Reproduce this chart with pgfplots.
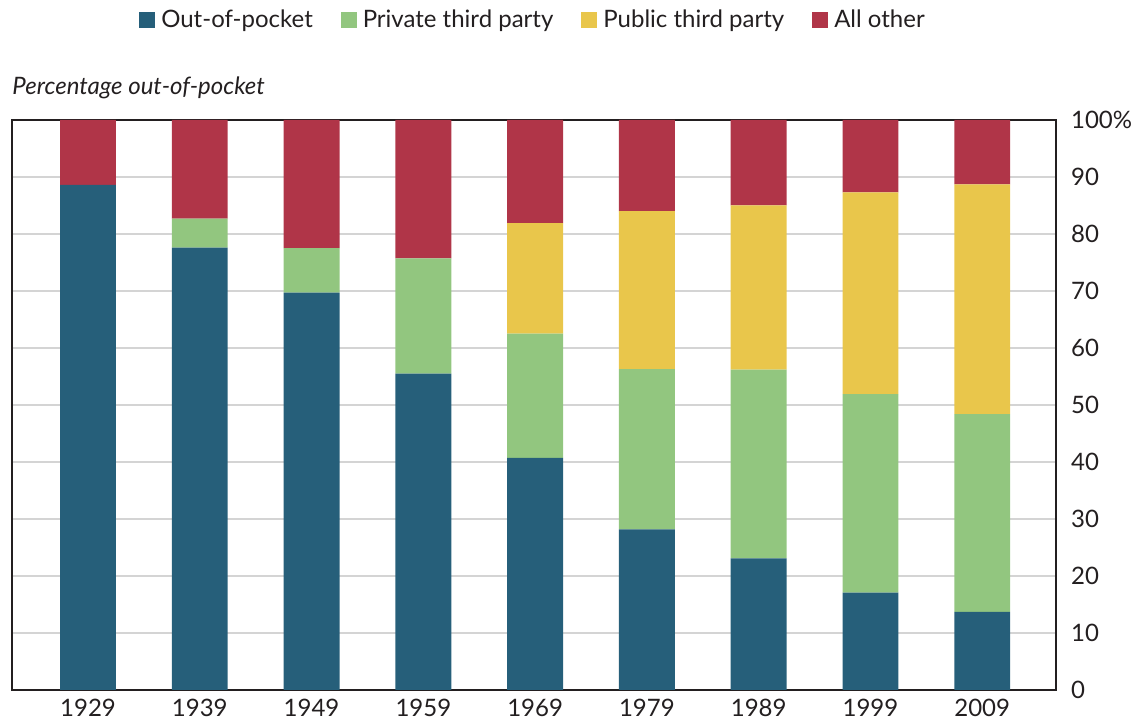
\documentclass[border=0pt]{standalone}
\usepackage{fontspec}
\setmainfont{Lato}
\usepackage{pgfplots}
\pgfplotsset{compat=1.18}
\usetikzlibrary{calc}
\definecolor{oop}{HTML}{265F7A}
\definecolor{priv}{HTML}{92C67F}
\definecolor{pub}{HTML}{E9C64B}
\definecolor{oth}{HTML}{B03548}
\definecolor{txt}{HTML}{231F20}
\definecolor{grd}{HTML}{D4D4D4}
\pgfplotsset{sqlegend/.style={legend image code/.code={\fill[##1] (0pt,-4pt) rectangle (8pt,4pt);}}}
\begin{document}
\begin{tikzpicture}
\begin{axis}[
  name=ax,
  scale only axis,
  width=522pt, height=285pt,
  ybar stacked, bar width=0.5,
  xmin=-0.68, xmax=8.66,
  ymin=0, ymax=100,
  xtick=data,
  xticklabels={1929,1939,1949,1959,1969,1979,1989,1999,2009},
  ytick={0,10,...,100},
  yticklabels={0,10,20,30,40,50,60,70,80,90,100\%},
  yticklabel pos=right,
  major tick length=0pt,
  ymajorgrids, grid style={grd, line width=0.8pt},
  axis line style={txt, line width=1.4pt},
  font=\fontsize{12}{14}\selectfont,
  ticklabel style={txt},
  /pgf/number format/assume math mode=true,
  yticklabel style={xshift=4pt},
  xticklabel style={yshift=-1pt},
  every axis plot post/.append style={draw=none, sqlegend},
  legend columns=4,
  legend style={draw=none, fill=none, at={(0.5,1)}, anchor=center, yshift=50pt, font=\fontsize{12}{14}\selectfont, text=txt,
    /tikz/every odd column/.append style={column sep=1pt},
    /tikz/every even column/.append style={column sep=12pt}},
]
\addplot[fill=oop] coordinates {(0,88.6) (1,77.6) (2,69.7) (3,55.5) (4,40.7) (5,28.2) (6,23.1) (7,17.1) (8,13.7)};
\addplot[fill=priv] coordinates {(0,0.0) (1,5.1) (2,7.8) (3,20.2) (4,21.8) (5,28.1) (6,33.1) (7,34.8) (8,34.7)};
\addplot[fill=pub] coordinates {(0,0) (1,0) (2,0) (3,0) (4,19.4) (5,27.7) (6,28.8) (7,35.4) (8,40.3)};
\addplot[fill=oth] coordinates {(0,11.4) (1,17.3) (2,22.5) (3,24.3) (4,18.1) (5,16.0) (6,15.0) (7,12.7) (8,11.3)};
\legend{Out-of-pocket, Private third party, Public third party, All other}
\end{axis}
\node[anchor=west, inner sep=0pt, font=\fontsize{12}{14}\selectfont\itshape, text=txt] at ($(ax.north west)+(0,16pt)$) {Percentage out-of-pocket};
\pgfresetboundingbox
\path ($(ax.south west)+(-6pt,-17.5pt)$) rectangle ($(ax.north east)+(41pt,60pt)$);
\end{tikzpicture}
\end{document}
